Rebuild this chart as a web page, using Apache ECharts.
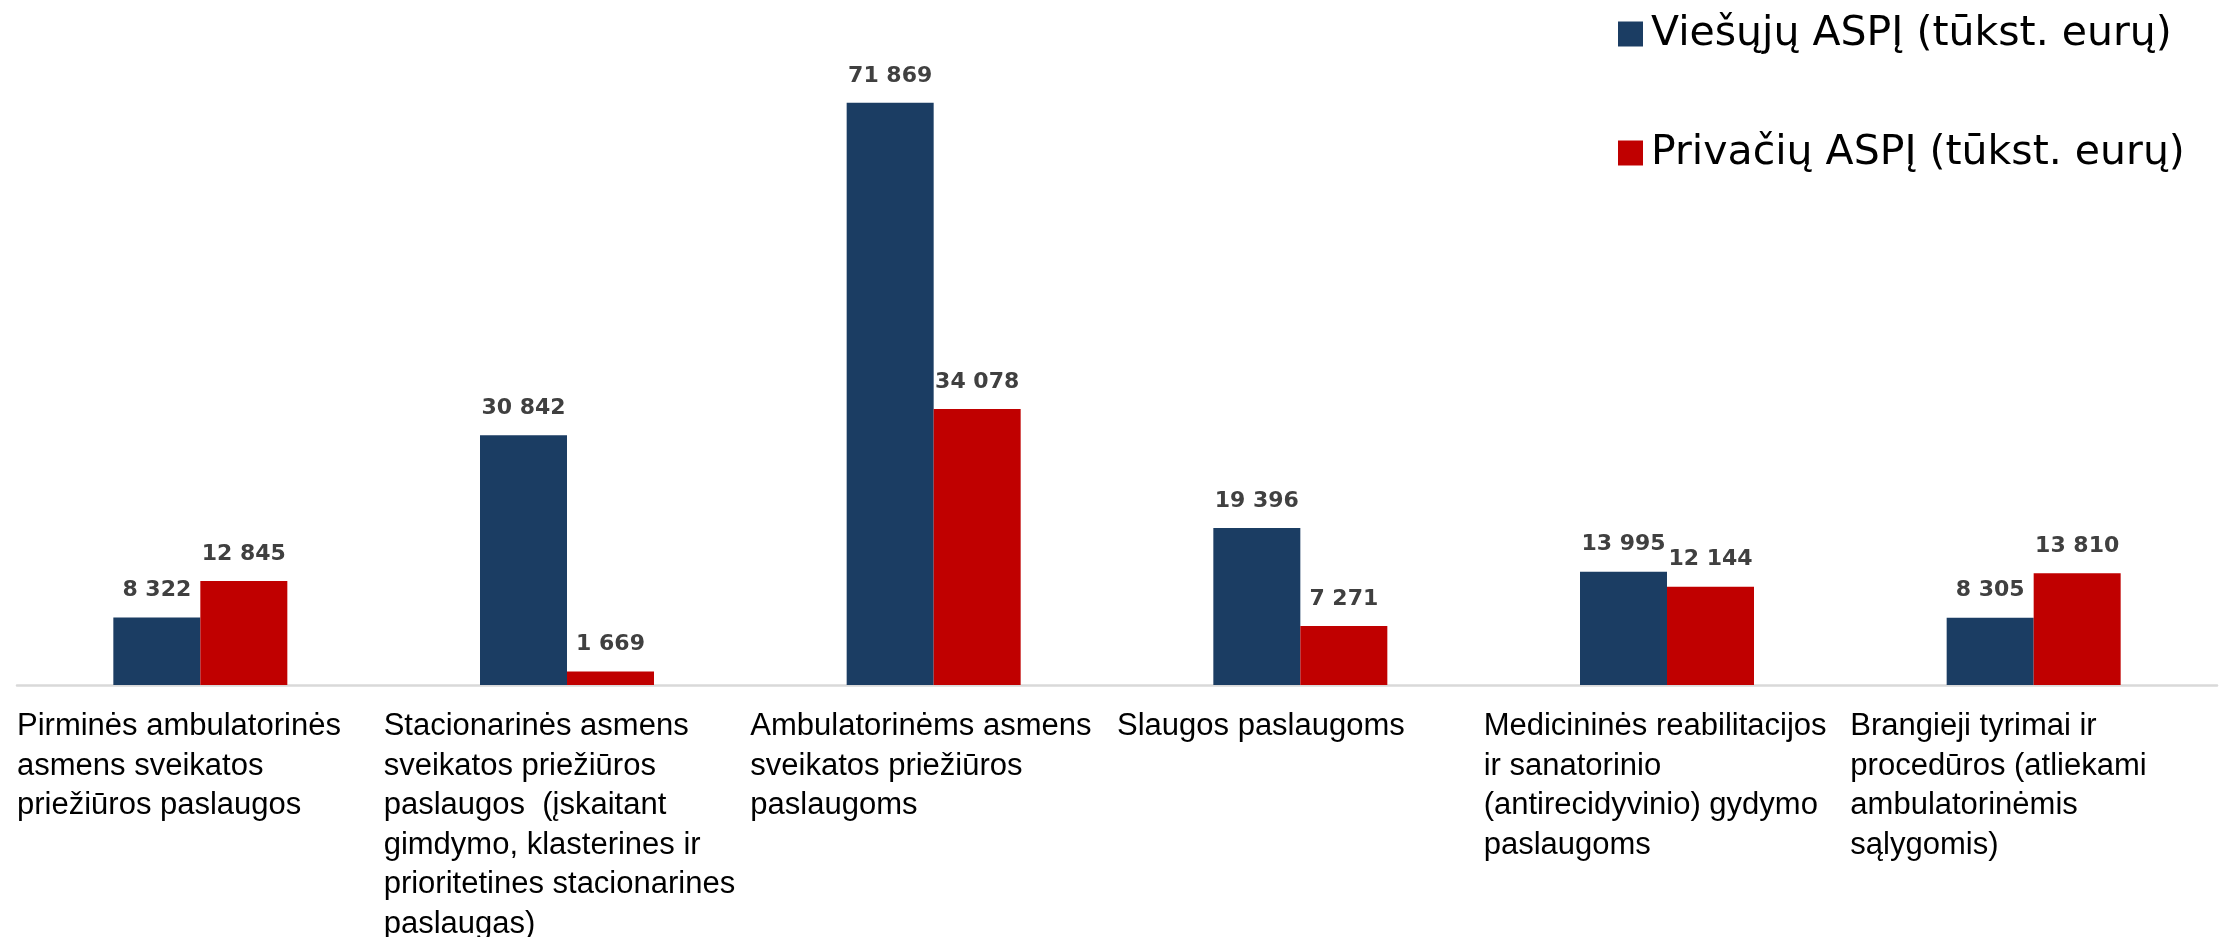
<!DOCTYPE html>
<html>
<head>
<meta charset="utf-8">
<title>ASPĮ išlaidos pagal paslaugų grupes</title>
<script src="https://cdn.jsdelivr.net/npm/echarts@6/dist/echarts.min.js"></script>
<style>
  html, body { margin: 0; padding: 0; background: #ffffff; }
  #chart { width: 2221px; height: 937px; }
</style>
</head>
<body>
<div id="chart"></div>
<script>
// Service groups (line breaks as they wrap under the axis)
const categories = [
  'Pirminės ambulatorinės\nasmens sveikatos\npriežiūros paslaugos',
  'Stacionarinės asmens\nsveikatos priežiūros\npaslaugos  (įskaitant\ngimdymo, klasterines ir\nprioritetines stacionarines\npaslaugas)',
  'Ambulatorinėms asmens\nsveikatos priežiūros\npaslaugoms',
  'Slaugos paslaugoms',
  'Medicininės reabilitacijos\nir sanatorinio\n(antirecidyvinio) gydymo\npaslaugoms',
  'Brangieji tyrimai ir\nprocedūros (atliekami\nambulatorinėmis\nsąlygomis)'
];

const seriesNames = ['Viešųjų ASPĮ (tūkst. eurų)', 'Privačių ASPĮ (tūkst. eurų)'];

// Thousand euro amounts
const publicValues  = [8322, 30842, 71869, 19396, 13995, 8305];
const privateValues = [12845, 1669, 34078, 7271, 12144, 13810];

const colors = ['#1B3D63', '#C00000'];

// "71869" -> "71 869"
function withSpaces(v) {
  return String(v).replace(/\B(?=(\d{3})+(?!\d))/g, ' ');
}

const chart = echarts.init(document.getElementById('chart'), null, { renderer: 'canvas' });

const labelStyle = {
  show: true,
  position: 'top',
  distance: 16,
  fontFamily: 'DejaVu Sans, sans-serif',
  fontWeight: 'bold',
  fontSize: 22,
  color: '#404040',
  formatter: p => withSpaces(p.value)
};

chart.setOption({
  animation: false,
  backgroundColor: '#ffffff',
  color: colors,
  grid: { left: 17, right: 4, top: 37, bottom: 252, outerBoundsMode: 'none' },
  legend: {
    orient: 'vertical',
    left: 1613,
    top: 4,
    itemWidth: 25,
    itemHeight: 25,
    itemGap: 69,
    icon: 'rect',
    data: seriesNames,
    textStyle: {
      fontFamily: 'DejaVu Sans, sans-serif',
      fontSize: 41,
      lineHeight: 50,
      color: '#000000',
      padding: [0, 0, 0, 3]
    }
  },
  xAxis: [
    {
      type: 'category',
      data: categories,
      boundaryGap: true,
      axisLine: { show: true, lineStyle: { color: '#D9D9D9', width: 2.5 } },
      axisTick: { show: false },
      axisLabel: { show: false }
    },
    {
      // label axis: ticks sit on category boundaries so text starts at each slot's left edge
      type: 'category',
      data: categories.concat(['']),
      boundaryGap: false,
      position: 'bottom',
      axisLine: { show: false },
      axisTick: { show: false },
      axisLabel: {
        show: true,
        interval: 0,
        hideOverlap: false,
        align: 'left',
        verticalAlign: 'top',
        margin: 22,
        fontFamily: 'Liberation Sans, Arial, sans-serif',
        fontSize: 31,
        lineHeight: 39.5,
        color: '#000000'
      }
    }
  ],
  yAxis: {
    type: 'value',
    min: 0,
    max: 80000,
    show: false,
    splitLine: { show: false }
  },
  series: [
    {
      name: seriesNames[0],
      type: 'bar',
      xAxisIndex: 0,
      data: publicValues,
      barWidth: 87,
      barGap: '0%',
      itemStyle: { color: colors[0] },
      label: labelStyle
    },
    {
      name: seriesNames[1],
      type: 'bar',
      xAxisIndex: 0,
      data: privateValues,
      barWidth: 87,
      barGap: '0%',
      itemStyle: { color: colors[1] },
      label: labelStyle
    }
  ]
});
</script>
</body>
</html>
